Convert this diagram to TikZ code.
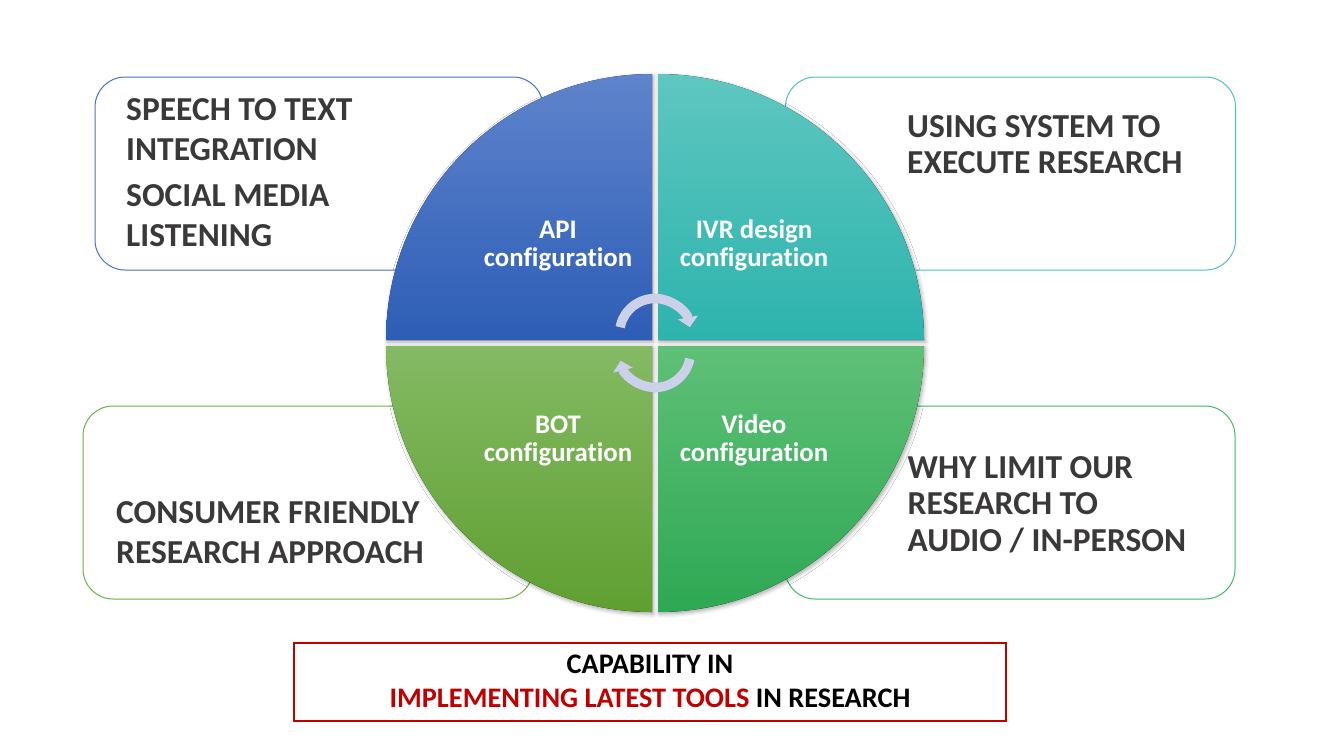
\documentclass[tikz,border=0pt]{standalone}
\usepackage{fontspec}
\setmainfont{Carlito}[Ligatures=NoCommon]
\usetikzlibrary{arrows.meta,shadows.blur}

% quadrant gradients (top / bottom)
\definecolor{qblueT}{HTML}{5F84CC}
\definecolor{qblueB}{HTML}{2D5DB6}
\definecolor{qtealT}{HTML}{5EC7C0}
\definecolor{qtealB}{HTML}{2DB3AD}
\definecolor{qlimeT}{HTML}{84BA64}
\definecolor{qlimeB}{HTML}{5F9F30}
\definecolor{qgreenT}{HTML}{5FC077}
\definecolor{qgreenB}{HTML}{2DA853}
% box outlines
\definecolor{bblue}{HTML}{4472C4}
\definecolor{bteal}{HTML}{4EC1BA}
\definecolor{blime}{HTML}{70AD47}
\definecolor{bgreen}{HTML}{42B86A}
% text and accents
\definecolor{txtgray}{HTML}{3A3838}
\definecolor{darkred}{HTML}{C00000}
\definecolor{arrowfill}{HTML}{CBD1E8}

\tikzset{
  infobox/.style={draw, rounded corners=30pt, line width=1pt, fill=white,
    inner sep=0pt, minimum width=#1},
  quad/.style={blur shadow={shadow xshift=1.5pt, shadow yshift=-2pt,
    shadow blur radius=4pt, shadow opacity=35}},
  sidetext/.style={font=\fontsize{33.5}{38}\selectfont\bfseries, text=txtgray,
    anchor=base west, inner sep=0pt},
  quadtext/.style={font=\fontsize{26.8}{30}\selectfont\bfseries, text=white,
    anchor=base, inner sep=0pt},
  captext/.style={font=\fontsize{28.3}{32}\selectfont\bfseries, text=black,
    anchor=base, inner sep=0pt},
  cyclearrow/.style={draw=arrowfill, line width=9.5pt,
    -{Triangle[width=20pt,length=10pt]}},
  cycleshadow/.style={draw=black, draw opacity=0.18, line width=9.5pt,
    -{Triangle[width=20pt,length=10pt]}, shift={(1,2)}}
}

\begin{document}
\begin{tikzpicture}[x=1pt,y=-1pt]
\useasboundingbox (0,0) rectangle (1317,742);

% outer boxes behind the circle
\node[infobox=448pt, draw=bblue, minimum height=193pt] (boxTL) at (319,173.5) {};
\node[infobox=450pt, draw=bteal, minimum height=193pt] (boxTR) at (1010.5,173.5) {};
\node[infobox=450pt, draw=blime, minimum height=193pt] (boxBL) at (308,502.5) {};
\node[infobox=450pt, draw=bgreen, minimum height=193pt] (boxBR) at (1010,502.5) {};

% four quadrants of the circle
\fill[quad, top color=qblueT, bottom color=qblueB]
  (652,340) -- ++(-266,0) arc[start angle=180, end angle=270, radius=266] -- cycle;
\fill[quad, top color=qtealT, bottom color=qtealB]
  (658,340) -- ++(0,-266) arc[start angle=270, end angle=360, radius=266] -- cycle;
\fill[quad, top color=qlimeT, bottom color=qlimeB]
  (652,346) -- ++(0,266) arc[start angle=90, end angle=180, radius=266] -- cycle;
\fill[quad, top color=qgreenT, bottom color=qgreenB]
  (658,346) -- ++(266,0) arc[start angle=0, end angle=90, radius=266] -- cycle;

% cycle arrows in the centre
\coordinate (ctop) at (655,334);
\coordinate (cbot) at (655,352);
\draw[cycleshadow] ([shift={(191:35.5)}]ctop) arc[start angle=191, end angle=349, radius=35.5];
\draw[cycleshadow] ([shift={(11:35.5)}]cbot) arc[start angle=11, end angle=166, radius=35.5];
\draw[cyclearrow] ([shift={(191:35.5)}]ctop) arc[start angle=191, end angle=349, radius=35.5];
\draw[cyclearrow] ([shift={(11:35.5)}]cbot) arc[start angle=11, end angle=166, radius=35.5];

% quadrant labels
\node[quadtext] (api1) at (558,238) {API};
\node[quadtext] (api2) at (558,266) {configuration};
\node[quadtext] (ivr1) at (754,238) {IVR design};
\node[quadtext] (ivr2) at (754,266) {configuration};
\node[quadtext] (bot1) at (558,433) {BOT};
\node[quadtext] (bot2) at (558,461) {configuration};
\node[quadtext] (vid1) at (754,433) {Video};
\node[quadtext] (vid2) at (754,461) {configuration};

% box texts
\node[sidetext] (tl1) at (126,120) {SPEECH TO TEXT};
\node[sidetext] (tl2) at (126,160.7) {INTEGRATION};
\node[sidetext] (tl3) at (126,206.7) {SOCIAL MEDIA};
\node[sidetext] (tl4) at (126,246.7) {LISTENING};

\node[sidetext] (tr1) at (907,137) {USING SYSTEM TO};
\node[sidetext] (tr2) at (907,173) {EXECUTE RESEARCH};

\node[sidetext] (bl1) at (116,523) {CONSUMER FRIENDLY};
\node[sidetext] (bl2) at (116,563) {RESEARCH APPROACH};

\node[sidetext] (br1) at (907.5,478) {WHY LIMIT OUR};
\node[sidetext] (br2) at (907.5,514) {RESEARCH TO};
\node[sidetext] (br3) at (907.5,551) {AUDIO / IN-PERSON};

% caption box
\node[draw=darkred, line width=1.2pt, minimum width=712pt, minimum height=78pt,
  inner sep=0pt] (capbox) at (650,682) {};
\node[captext] (cap1) at (650,673) {CAPABILITY IN};
\node[captext] (cap2) at (650,707) {\textcolor{darkred}{IMPLEMENTING LATEST TOOLS} IN RESEARCH};
\end{tikzpicture}
\end{document}
